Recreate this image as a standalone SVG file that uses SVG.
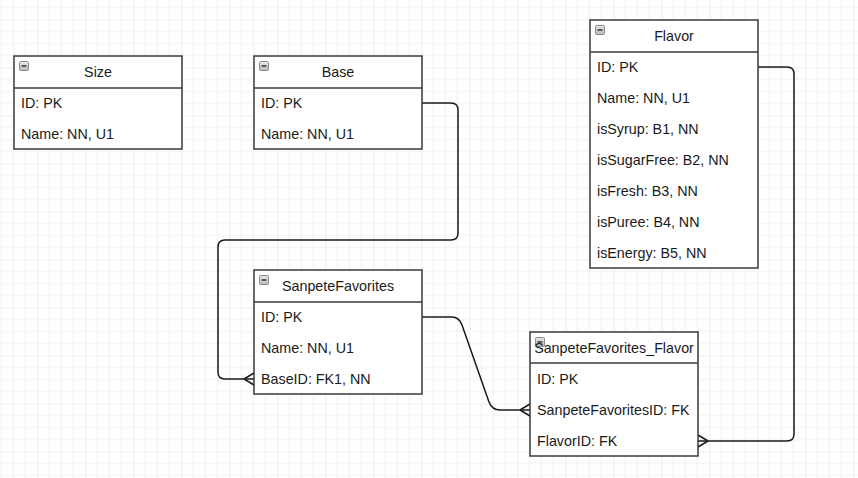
<svg xmlns="http://www.w3.org/2000/svg" width="858" height="478" viewBox="0 0 858 478">
<defs>
<pattern id="grid" x="37.5" y="19.5" width="48" height="48" patternUnits="userSpaceOnUse">
<path d="M12 0V48M24 0V48M36 0V48M0 12H48M0 24H48M0 36H48" stroke="#efefef" stroke-width="1" fill="none"/>
<path d="M0 0V48M0 0H48" stroke="#dcdcdc" stroke-width="1" fill="none"/>
</pattern>
<linearGradient id="ic" x1="0" y1="0" x2="0" y2="1">
<stop offset="0" stop-color="#e8e8e8"/>
<stop offset="1" stop-color="#b8b8b8"/>
</linearGradient>
<g id="icon">
<rect x="0.5" y="0.5" width="9" height="9" rx="1" fill="url(#ic)" stroke="#8a8a8a" stroke-width="1"/>
<path d="M2.5 5H7.5" stroke="#333" stroke-width="1.5"/>
</g>
</defs>
<style>
.tbl{fill:#fff;stroke:#3a3a3a;stroke-width:1.5}
.sep{stroke:#3a3a3a;stroke-width:1.5;fill:none}
.title{font-family:"Liberation Sans",Arial,sans-serif;font-size:14.3px;fill:#1a1a1a;text-anchor:middle}
.row{font-family:"Liberation Sans",Arial,sans-serif;font-size:14.3px;fill:#1a1a1a}
.edge{fill:none;stroke:#1a1a1a;stroke-width:1.5}
</style>
<rect width="858" height="478" fill="#fff"/>
<rect width="858" height="478" fill="url(#grid)"/>

<g id="connectors">
<path class="edge" d="M422 103H451Q458 103 458 110V233Q458 240 451 240H225Q218 240 218 247V372Q218 379 225 379H254"/>
<path class="edge" d="M244 379L254 373M244 379L254 385"/>
<path class="edge" d="M422 317H452Q459 317 462 325L489 402Q492 410 500 410H530"/>
<path class="edge" d="M520 410L530 404M520 410L530 416"/>
<path class="edge" d="M758 67H787Q794 67 794 74V434Q794 441 787 441H698"/>
<path class="edge" d="M708 441L698 435M708 441L698 447"/>
</g>

<g id="size">
<rect class="tbl" x="14" y="56" width="168" height="93"/>
<path class="sep" d="M14 88H182"/>
<use href="#icon" x="19" y="61"/>
<text class="title" x="98" y="77">Size</text>
<text class="row" x="21" y="108">ID: PK</text>
<text class="row" x="21" y="139">Name: NN, U1</text>
</g>

<g id="base">
<rect class="tbl" x="254" y="56" width="168" height="93"/>
<path class="sep" d="M254 88H422"/>
<use href="#icon" x="259" y="61"/>
<text class="title" x="338" y="77">Base</text>
<text class="row" x="261" y="108">ID: PK</text>
<text class="row" x="261" y="139">Name: NN, U1</text>
</g>

<g id="flavor">
<rect class="tbl" x="590" y="20" width="168" height="248"/>
<path class="sep" d="M590 52H758"/>
<use href="#icon" x="595" y="25"/>
<text class="title" x="674" y="41">Flavor</text>
<text class="row" x="597" y="72">ID: PK</text>
<text class="row" x="597" y="103">Name: NN, U1</text>
<text class="row" x="597" y="134">isSyrup: B1, NN</text>
<text class="row" x="597" y="165">isSugarFree: B2, NN</text>
<text class="row" x="597" y="196">isFresh: B3, NN</text>
<text class="row" x="597" y="227">isPuree: B4, NN</text>
<text class="row" x="597" y="258">isEnergy: B5, NN</text>
</g>

<g id="sanpetefavorites">
<rect class="tbl" x="254" y="270" width="168" height="124"/>
<path class="sep" d="M254 302H422"/>
<use href="#icon" x="259" y="275"/>
<text class="title" x="338" y="291">SanpeteFavorites</text>
<text class="row" x="261" y="322">ID: PK</text>
<text class="row" x="261" y="353">Name: NN, U1</text>
<text class="row" x="261" y="384">BaseID: FK1, NN</text>
</g>

<g id="sanpetefavorites_flavor">
<rect class="tbl" x="530" y="332" width="168" height="124"/>
<path class="sep" d="M530 363H698"/>
<use href="#icon" x="535" y="337"/>
<text class="title" x="614" y="353">SanpeteFavorites_Flavor</text>
<text class="row" x="537" y="384">ID: PK</text>
<text class="row" x="537" y="415">SanpeteFavoritesID: FK</text>
<text class="row" x="537" y="446">FlavorID: FK</text>
</g>
</svg>
